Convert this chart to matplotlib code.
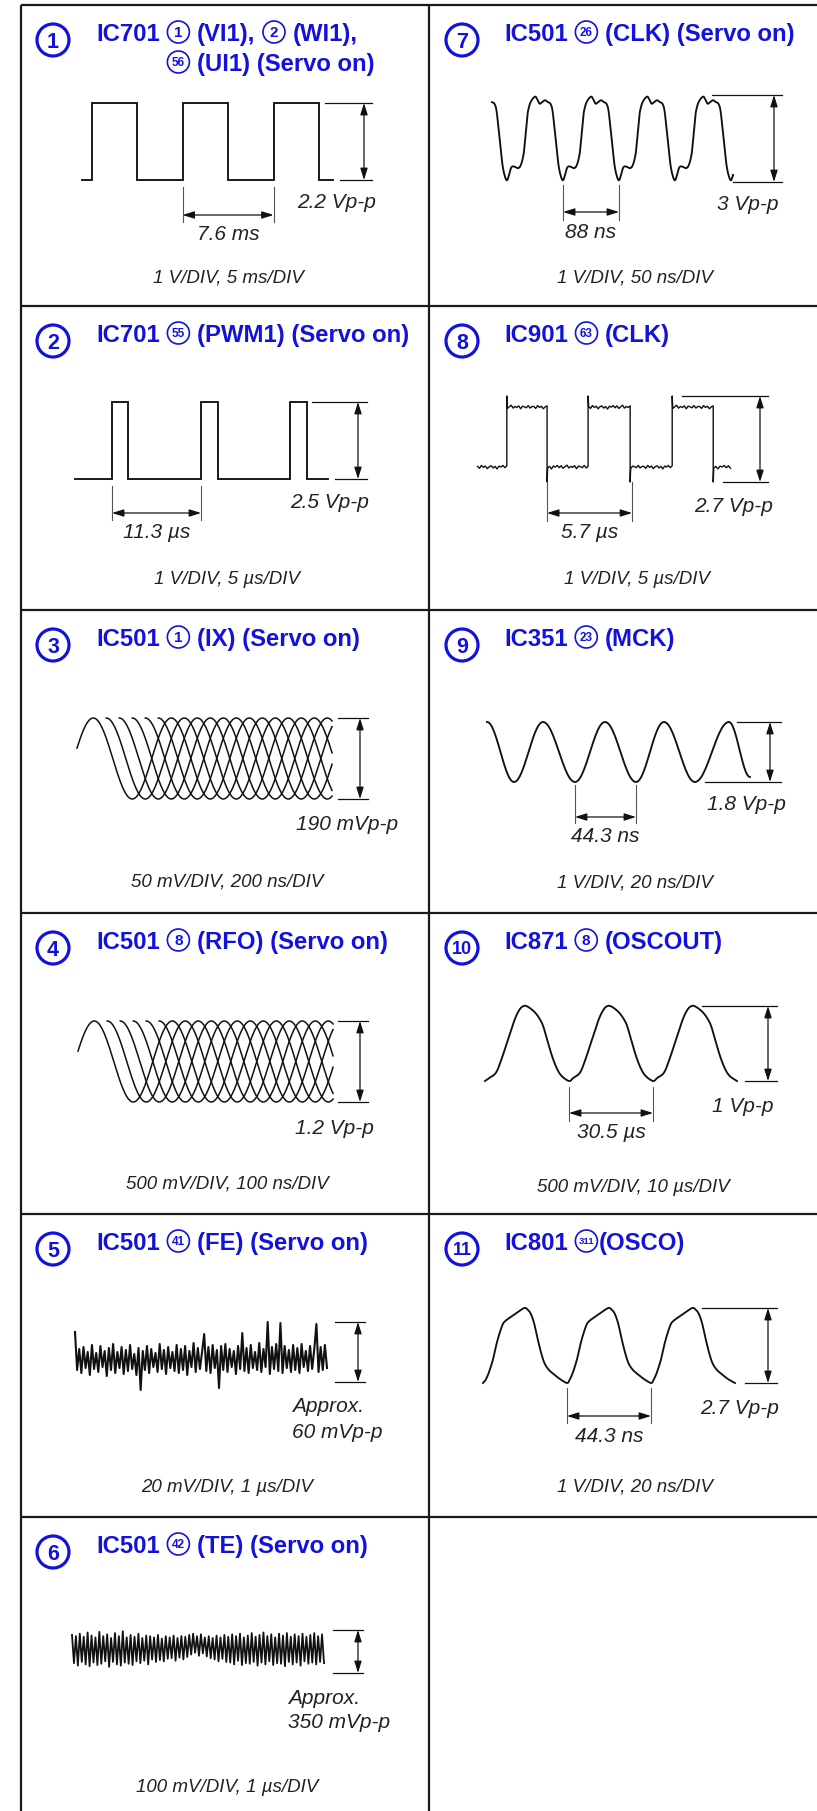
import re
import numpy as np
import matplotlib
matplotlib.use('Agg')
import matplotlib.pyplot as plt
from matplotlib.patches import Circle

plt.rcParams['font.family'] = ['Liberation Sans', 'DejaVu Sans']

# ---------------- 文字 ----------------
title_lines = [
    ['IC701 {1} (VI1), {2} (WI1),', '{56} (UI1) (Servo on)'],
    ['IC701 {55} (PWM1) (Servo on)'],
    ['IC501 {1} (IX) (Servo on)'],
    ['IC501 {8} (RFO) (Servo on)'],
    ['IC501 {41} (FE) (Servo on)'],
    ['IC501 {42} (TE) (Servo on)'],
    ['IC501 {26} (CLK) (Servo on)'],
    ['IC901 {63} (CLK)'],
    ['IC351 {23} (MCK)'],
    ['IC871 {8} (OSCOUT)'],
    ['IC801 {311}(OSCO)'],
]
div_texts = ['1 V/DIV, 5 ms/DIV', '1 V/DIV, 5 µs/DIV', '50 mV/DIV, 200 ns/DIV',
             '500 mV/DIV, 100 ns/DIV', '20 mV/DIV, 1 µs/DIV', '100 mV/DIV, 1 µs/DIV',
             '1 V/DIV, 50 ns/DIV', '1 V/DIV, 5 µs/DIV', '1 V/DIV, 20 ns/DIV',
             '500 mV/DIV, 10 µs/DIV', '1 V/DIV, 20 ns/DIV']
vpp_texts = ['2.2 Vp-p', '2.5 Vp-p', '190 mVp-p', '1.2 Vp-p', '60 mVp-p', '350 mVp-p',
             '3 Vp-p', '2.7 Vp-p', '1.8 Vp-p', '1 Vp-p', '2.7 Vp-p']
approx = [False, False, False, False, True, True, False, False, False, False, False]
period_texts = ['7.6 ms', '11.3 µs', None, None, None, None,
                '88 ns', '5.7 µs', '44.3 ns', '30.5 µs', '44.3 ns']

# ---------------- 数值 ----------------
vpp_values = [2.2, 2.5, 190, 1.2, 60, 350, 3.0, 2.7, 1.8, 1.0, 2.7]
period_values = [7.6, 11.3, None, None, None, None, 88, 5.7, 44.3, 30.5, 44.3]
period_start = [8.4, 4.7, None, None, None, None, 111.6, 4.7, 63.9, 30.5, 44.3]

# ① 方波边沿 (ms)
vi1_edges = [0.0, 0.8, 4.6, 8.4, 12.2, 16.0, 19.8, 21.0]
# ② PWM 边沿 (us)
pwm1_edges = [0.0, 4.7, 6.7, 16.0, 18.1, 27.3, 29.4, 32.1]
# ③④ 眼图 (ns)
eye_period = 230
eye_traces = 6
eye_first_peak = 48
eye_end = 752
# ⑤ FE 噪声 (mV)
fe_mv = [50, 12, 33, 9, 35, 14, 30, 7, 37, 13,
         29, 10, 36, 15, 31, 6, 34, 12, 38, 9,
         30, 14, 35, 8, 32, 11, 37, 13, 28, 7,
         34, -8, 31, 12, 36, 9, 33, 15, 29, 10,
         38, 13, 32, 8, 35, 14, 30, 11, 37, 9,
         33, 12, 36, 7, 31, 15, 39, 10, 34, 13,
         30, 48, 11, 35, 9, 37, 14, 32, -6, 36,
         12, 38, 10, 33, 15, 31, 8, 36, 13, 49,
         11, 34, 9, 37, 14, 30, 12, 39, 10, 33,
         15, 60, 8, 35, 13, 38, 11, 59, 9, 36,
         14, 32, 10, 37, 12, 34, 9, 38, 15, 31,
         11, 36, 13, 33, 58, 10, 35, 12, 37, 14]
fe_span_us = 8.4
# ⑥ TE 噪声 (mV)
te_mv = [310, 80, 300, 60, 320, 90, 295, 70, 330, 55,
         305, 85, 290, 65, 335, 75, 300, 95, 315, 50,
         285, 90, 325, 70, 300, 60, 340, 85, 290, 75,
         310, 65, 295, 95, 320, 80, 285, 100, 305, 70,
         300, 110, 290, 90, 310, 105, 280, 95, 300, 115,
         290, 120, 305, 100, 285, 125, 300, 110, 295, 130,
         310, 150, 320, 165, 300, 140, 315, 160, 290, 135,
         300, 120, 285, 110, 305, 95, 290, 115, 310, 90,
         295, 85, 315, 70, 300, 100, 320, 65, 290, 80,
         305, 75, 325, 90, 295, 60, 310, 85, 330, 70,
         300, 95, 315, 65, 290, 80, 320, 75, 305, 55,
         325, 90, 295, 70, 315, 85, 300, 60, 320, 95,
         295, 75, 310, 85, 325, 70, 300, 90, 315, 80]
te_span_us = 8.4
# ⑦ CLK 一个周期 (相位, 电平比例)
clk7_phase = [0, .036, .071, .107, .155, .202, .25, .298, .333, .369, .405, .44,
              .476, .512, .548, .583, .631, .679, .726, .774, .81, .845, .881,
              .923, .964, 1.0]
clk7_level = [.02, .08, .16, .18, .17, .16, .20, .33, .56, .79, .89, .94,
              .97, .98, .94, .90, .92, .94, .92, .90, .83, .64, .41,
              .18, .06, .02]
clk7_first_low = 23.6
clk7_end = 379
# ⑧ CLK 边沿 (us)
clk8_edges = [0.0, 2.0, 4.7, 7.45, 10.27, 13.09, 15.84, 17.0]
clk8_high = 2.35
clk8_low = 0.47
clk8_noise = [0.02, -0.04, 0.05, -0.01, 0.03, -0.05, 0.01, 0.04, -0.03, 0.02,
              -0.06, 0.03, 0.00, 0.05, -0.02, 0.04, -0.04, 0.01, 0.06, -0.03,
              0.02, -0.01, 0.04, -0.05, 0.03, 0.01, -0.02, 0.05, -0.03, 0.02]
# ⑨ MCK 极值点 (ns, V)
mck_t = [0, 19.6, 40.7, 63.9, 85.7, 108.2, 128.5, 151.0, 175.7, 191.0]
mck_v = [1.8, 0, 1.8, 0, 1.8, 0, 1.8, 0, 1.8, 0.15]
# ⑩ OSCOUT 一个周期
osc10_phase = [0, .05, .13, .19, .27, .35, .41, .46, .51, .59, .65, .69, .73,
               .79, .85, .91, 1.0]
osc10_level = [0, .04, .11, .27, .54, .81, .95, 1.0, .99, .92, .83, .74, .59,
               .36, .18, .07, 0]
# ⑪ OSCO 一个周期
osc11_phase = [0, .03, .07, .12, .17, .23, .27, .33, .41, .49, .53, .57, .61,
               .65, .69, .73, .78, .85, .92, 1.0]
osc11_level = [0, .04, .14, .32, .56, .77, .83, .88, .94, 1.0, .98, .92, .79,
               .59, .41, .27, .18, .11, .05, 0]
osc_cycles = 3

# ---------------- 布局 (像素) ----------------
W, H = 817, 1811
BLUE = '#1212dc'
INK = '#111111'
row_top = [5, 306, 610, 913, 1214, 1517]
cell_col = [0, 0, 0, 0, 0, 0, 1, 1, 1, 1, 1]
cell_row = [0, 1, 2, 3, 4, 5, 0, 1, 2, 3, 4]
circle_x = [53, 462]
title_x = [96, 504]

wave_x0 = [82, 75, 77, 78, 75, 72, 492, 477, 487, 485, 483]
wave_y0 = [180, 479, 799, 1102, 1382, 1673, 182, 482, 782, 1081, 1383]
vpp_px = [77, 77, 81, 81, 60, 43, 87, 86, 60, 75, 75]
px_per_x = [91 / 7.6, 89 / 11.3, 78 / 230, 78 / 230, 30, 30,
            56 / 88, 85 / 5.7, 61 / 44.3, 84 / 30.5, 84 / 44.3]

vpp_top_x0 = [325, 312, 338, 338, 335, 333, 712, 682, 737, 702, 702]
vpp_bot_x0 = [340, 335, 338, 338, 335, 333, 733, 723, 705, 745, 745]
vpp_x1 = [372, 367, 368, 368, 365, 363, 782, 768, 781, 777, 777]
vpp_arrow_x = [364, 358, 360, 360, 358, 358, 774, 760, 770, 768, 768]
vpp_label_xy = [(337, 202), (330, 503), (347, 825), (334, 1128), (292, 1407),
                (288, 1698), (748, 205), (734, 507), (746, 805), (743, 1107),
                (740, 1408)]
per_line_top = [187, 486, None, None, None, None, 185, 482, 785, 1087, 1388]
per_line_bot = [222, 520, None, None, None, None, 220, 521, 823, 1121, 1423]
per_arrow_y = [215, 513, None, None, None, None, 212, 513, 817, 1113, 1416]
div_label_xy = [(228, 278), (227, 580), (227, 882), (227, 1184), (227, 1488),
                (227, 1788), (635, 278), (637, 580), (635, 883), (633, 1187),
                (635, 1487)]

fig = plt.figure(figsize=(W / 100, H / 100), dpi=100)
base = fig.add_axes([0, 0, 1, 1])
base.set_xlim(0, W)
base.set_ylim(H, 0)
base.axis('off')
renderer = fig.canvas.get_renderer()

# 表格线
line_kw = dict(color='#1a1a1a', lw=1.6, solid_capstyle='butt')
base.plot([21, 21], [row_top[0], H], **line_kw)
base.plot([429, 429], [row_top[0], H], **line_kw)
for y in row_top:
    base.plot([21, W], [y, y], **line_kw)


def cap_px(fs):
    return 0.716 * fs * 100 / 72


TFS = 17.2
_a = base.text(0, 0, 'I I', fontsize=TFS, weight='bold')
_b = base.text(0, 0, 'II', fontsize=TFS, weight='bold')
SPACE = _a.get_window_extent(renderer).width - _b.get_window_extent(renderer).width
_a.remove()
_b.remove()


def pin_circle(x, yc, num):
    d = 22
    cx = x + d / 2 + 1
    base.add_patch(Circle((cx, yc), d / 2, fill=False, ec=BLUE, lw=1.2))
    fs = {1: 11, 2: 8.5, 3: 6.8}[len(num)]
    base.text(cx, yc + cap_px(fs) / 2, num, ha='center', va='baseline',
              fontsize=fs, color=BLUE, weight='bold')
    return x + d + 2


def draw_title(x, yc, line):
    first_pin = None
    base_y = yc + cap_px(TFS) / 2
    for part in re.split(r'(\{\d+\})', line):
        if not part:
            continue
        m = re.fullmatch(r'\{(\d+)\}', part)
        if m:
            if first_pin is None:
                first_pin = x
            x = pin_circle(x, yc, m.group(1))
            continue
        lead = len(part) - len(part.lstrip(' '))
        trail = len(part) - len(part.rstrip(' '))
        x += lead * SPACE
        s = part.strip()
        if s:
            t = base.text(x, base_y, s, ha='left', va='baseline', fontsize=TFS,
                          weight='bold', color=BLUE)
            x += t.get_window_extent(renderer).width
        x += trail * SPACE
    return first_pin


def wave_axes(i):
    x0, y0 = wave_x0[i], wave_y0[i]
    sx, sy = px_per_x[i], vpp_px[i] / vpp_values[i]
    ax = fig.add_axes([0, 0, 1, 1])
    ax.set_xlim(-x0 / sx, (W - x0) / sx)
    ax.set_ylim((y0 - H) / sy, y0 / sy)
    ax.axis('off')
    ax.patch.set_alpha(0)
    tx = lambda px: (px - x0) / sx
    vy = lambda py: (y0 - py) / sy
    return ax, tx, vy


def square(edges, lo, hi):
    t, v = [], []
    level = lo
    for a, b in zip(edges[:-1], edges[1:]):
        t += [a, b]
        v += [level, level]
        level = hi if level == lo else lo
    return t, v


def noisy_clock(edges, lo, hi, top, bottom, noise, step):
    t, v = [], []
    k = 0
    high = False
    for i, (a, b) in enumerate(zip(edges[:-1], edges[1:])):
        lvl = hi if high else lo
        if i > 0:
            t.append(a)
            v.append(top if high else bottom)
        for tt in np.linspace(a + step * 0.3, b, max(int((b - a) / step), 2)):
            t.append(tt)
            v.append(lvl + noise[k % len(noise)])
            k += 1
        high = not high
    return t, v


def tile_cycle(phase, level, t_first, per, k0, k1):
    ph, lv = [], []
    for k in range(k0, k1):
        ph += [p + k for p in phase[:-1]]
        lv += list(level[:-1])
    ph.append(k1)
    lv.append(level[-1])
    return t_first + np.array(ph) * per, np.array(lv)


def clip_series(t, v, a, b):
    m = (t > a) & (t < b)
    ta = np.concatenate([[a], t[m], [b]])
    va = np.concatenate([[np.interp(a, t, v)], v[m], [np.interp(b, t, v)]])
    return ta, va


def catmull(x, y, n=8):
    pts = np.column_stack([x, y])
    p = np.vstack([pts[0], pts, pts[-1]])
    s = np.linspace(0, 1, n, endpoint=False)[:, None]
    out = []
    for i in range(1, len(p) - 2):
        p0, p1, p2, p3 = p[i - 1], p[i], p[i + 1], p[i + 2]
        out.append(0.5 * (2 * p1 + (-p0 + p2) * s + (2 * p0 - 5 * p1 + 4 * p2 - p3) * s ** 2
                          + (-p0 + 3 * p1 - 3 * p2 + p3) * s ** 3))
    out.append(pts[-1][None])
    res = np.vstack(out)
    return res[:, 0], res[:, 1]


def cos_join(ts, vs, n=30):
    T, V = [], []
    s = np.linspace(0, 1, n)
    for i in range(len(ts) - 1):
        T.append(ts[i] + (ts[i + 1] - ts[i]) * s)
        V.append(vs[i] + (vs[i + 1] - vs[i]) * (1 - np.cos(np.pi * s)) / 2)
    return np.concatenate(T), np.concatenate(V)


wave_kw = dict(color=INK, lw=1.35, solid_joinstyle='miter')
anno_kw = dict(color=INK, lw=0.9)
arrow_kw = dict(arrowstyle='<|-|>,head_length=0.7,head_width=0.22', color=INK,
                lw=0.9, shrinkA=0, shrinkB=0, mutation_scale=10)

for i in range(11):
    col, row = cell_col[i], cell_row[i]
    top = row_top[row]
    # 圆圈编号
    cy = top + 35
    base.add_patch(Circle((circle_x[col], cy), 16, fill=False, ec=BLUE, lw=2.3))
    nfs = 15.5 if i + 1 < 10 else 13
    base.text(circle_x[col], cy + cap_px(nfs) / 2, str(i + 1), ha='center',
              va='baseline', fontsize=nfs, weight='bold', color=BLUE)
    # 标题
    first = None
    for j, line in enumerate(title_lines[i]):
        x = title_x[col] if j == 0 else first
        p = draw_title(x, top + 27 + 30 * j, line)
        if j == 0:
            first = p

    ax, tx, vy = wave_axes(i)
    vpp = vpp_values[i]

    # 波形
    if i == 0:
        t, v = square(vi1_edges, 0, vpp)
        ax.plot(t, v, **wave_kw)
    elif i == 1:
        t, v = square(pwm1_edges, 0, vpp)
        ax.plot(t, v, **wave_kw)
    elif i in (2, 3):
        for k in range(eye_traces):
            tk = eye_first_peak + k * eye_period / eye_traces
            t0 = 0 if k == 0 else tk
            t = np.linspace(t0, eye_end, 600)
            ax.plot(t, vpp / 2 * (1 + np.cos(2 * np.pi * (t - tk) / eye_period)),
                    color=INK, lw=1.1)
    elif i == 4:
        ax.plot(np.linspace(0, fe_span_us, len(fe_mv)), fe_mv, color=INK, lw=1.5)
    elif i == 5:
        ax.plot(np.linspace(0, te_span_us, len(te_mv)), te_mv, color=INK, lw=1.3)
    elif i == 6:
        t, v = tile_cycle(clk7_phase, clk7_level, clk7_first_low, period_values[i], -1, 5)
        t, v = clip_series(t, v, 0, clk7_end)
        t, v = catmull(t, v * vpp, 4)
        ax.plot(t, v, **wave_kw)
    elif i == 7:
        t, v = noisy_clock(clk8_edges, clk8_low, clk8_high, vpp, 0.0, clk8_noise, 0.12)
        ax.plot(t, v, color=INK, lw=1.0)
    elif i == 8:
        t, v = cos_join(mck_t, mck_v)
        ax.plot(t, v, **wave_kw)
    elif i in (9, 10):
        ph = osc10_phase if i == 9 else osc11_phase
        lv = osc10_level if i == 9 else osc11_level
        t, v = tile_cycle(ph, lv, 0, period_values[i], 0, osc_cycles)
        t, v = catmull(t, v * vpp, 8)
        ax.plot(t, v, **wave_kw)

    # Vp-p 标注
    ax.plot([tx(vpp_top_x0[i]), tx(vpp_x1[i])], [vpp, vpp], **anno_kw)
    ax.plot([tx(vpp_bot_x0[i]), tx(vpp_x1[i])], [0, 0], **anno_kw)
    ax.annotate('', xy=(tx(vpp_arrow_x[i]), vpp), xytext=(tx(vpp_arrow_x[i]), 0),
                arrowprops=arrow_kw)
    lx, ly = vpp_label_xy[i]
    if approx[i]:
        base.text(lx, ly, 'Approx.', ha='left', va='center', fontsize=15,
                  style='italic', color='#222222')
        base.text(lx, ly + 25, vpp_texts[i], ha='left', va='center', fontsize=15,
                  style='italic', color='#222222')
    else:
        base.text(lx, ly, vpp_texts[i], ha='center', va='center', fontsize=15,
                  style='italic', color='#222222')

    # 周期标注
    if period_values[i] is not None:
        t1 = period_start[i]
        t2 = t1 + period_values[i]
        ya, yb = vy(per_line_top[i]), vy(per_line_bot[i])
        for tt in (t1, t2):
            ax.plot([tt, tt], [ya, yb], color='#555555', lw=0.8)
        yarr = vy(per_arrow_y[i])
        ax.annotate('', xy=(t2, yarr), xytext=(t1, yarr), arrowprops=arrow_kw)
        base.text(wave_x0[i] + (t1 + t2) / 2 * px_per_x[i],
                  per_arrow_y[i] + 20, period_texts[i], ha='center', va='center',
                  fontsize=15, style='italic', color='#222222')

    dx, dy = div_label_xy[i]
    base.text(dx, dy, div_texts[i], ha='center', va='center', fontsize=13.5,
              style='italic', color='#222222')

fig.savefig('out.png', dpi=100)
